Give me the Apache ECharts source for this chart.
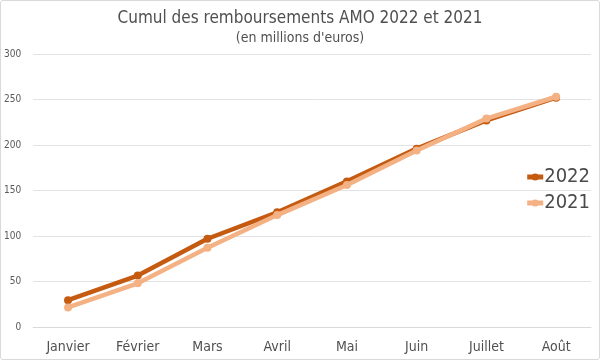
<!DOCTYPE html>
<html><head><meta charset="utf-8">
<script src="https://cdn.jsdelivr.net/npm/echarts@6/dist/echarts.min.js"></script>
<style>html,body{margin:0;padding:0;background:#fff}#c{width:598px;height:358px;border:1px solid #d9d9d9;border-radius:3px}</style>
</head><body><div id="c"></div>
<script>
const categories = ['Janvier','Février','Mars','Avril','Mai','Juin','Juillet','Août'];
const values2022 = [29.5, 56.5, 97, 126, 160, 196, 227, 252];
const values2021 = [21.5, 48, 87, 123, 156, 194, 229, 253];
const yTicks = [0, 50, 100, 150, 200, 250, 300];

const chart = echarts.init(document.getElementById('c'));
const font = '"DejaVu Sans Condensed", "Roboto", sans-serif';
chart.setOption({
  animation: false,
  title: {
    text: 'Cumul des remboursements AMO 2022 et 2021',
    subtext: "(en millions d'euros)",
    left: 'center', top: 4, itemGap: 4,
    textStyle: {fontFamily: font, fontSize: 17, fontWeight: 'normal', color: '#505050'},
    subtextStyle: {fontFamily: font, fontSize: 14, color: '#505050'}
  },
  legend: {
    orient: 'vertical', right: 4, top: 161, itemGap: 6,
    itemWidth: 16, itemHeight: 9,
    lineStyle: {width: 5},
    textStyle: {fontFamily: font, fontSize: 20, color: '#4a4a4a', padding: [0,0,0,-4]},
    data: ['2022','2021']
  },
  grid: {left: 29, right: 8, top: 53, bottom: 32, containLabel: false},
  xAxis: {
    type: 'category', data: categories, boundaryGap: true,
    axisLine: {show: true, lineStyle: {color: '#d9d9d9'}},
    axisTick: {show: false},
    axisLabel: {fontFamily: font, fontSize: 14, color: '#505050', margin: 13}
  },
  yAxis: {
    type: 'value', min: yTicks[0], max: yTicks[yTicks.length-1], interval: 50,
    axisLine: {show: false}, axisTick: {show: false},
    axisLabel: {fontFamily: font, fontSize: 10, color: '#595959', margin: 12},
    splitLine: {lineStyle: {color: '#e3e3e3'}}
  },
  series: [
    {name: '2021', type: 'line', data: values2021, symbol: 'circle', symbolSize: 8,
     lineStyle: {width: 4.5, color: '#F4B183'}, itemStyle: {color: '#F4B183'}, z: 2},
    {name: '2022', type: 'line', data: values2022, symbol: 'circle', symbolSize: 8,
     lineStyle: {width: 4.5, color: '#C55A11'}, itemStyle: {color: '#C55A11'}, z: 1}
  ]
});
</script></body></html>
